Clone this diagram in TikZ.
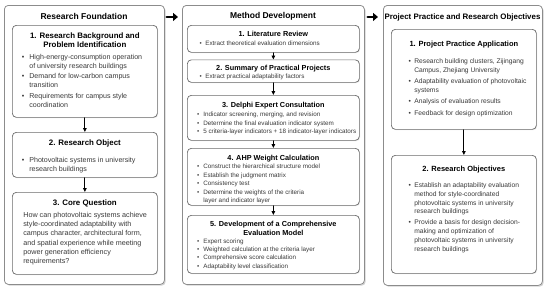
\documentclass[tikz,border=0pt]{standalone}
\usepackage{fontspec}
\setmainfont{Liberation Sans}
\usepackage{enumitem}
\usetikzlibrary{arrows.meta, shadows, calc}

\definecolor{bodygray}{HTML}{3A3A3A}
\definecolor{edgegray}{HTML}{6A6A6A}
\definecolor{paneledge}{HTML}{8C8C8C}

\setlist[itemize]{label=\textbullet, topsep=0pt, partopsep=0pt, parsep=0pt, itemsep=0pt}

% box text: height, width, top pad, content
\newcommand{\boxbody}[4]{\begin{minipage}[t][#1][t]{#2}\raggedright\vspace*{#3}#4\end{minipage}}

% fonts for the three columns
\newcommand{\lsub}{\fontsize{7.9}{9.3}\selectfont\bfseries}
\newcommand{\lbody}{\fontsize{7.1}{9}\selectfont\color{bodygray}}
\newcommand{\msub}{\fontsize{7.3}{9.5}\selectfont\bfseries}
\newcommand{\mbody}{\fontsize{6.3}{8.5}\selectfont\color{bodygray}}
\newcommand{\rsub}{\fontsize{7.5}{9}\selectfont\bfseries}
\newcommand{\rbody}{\fontsize{6.7}{8.9}\selectfont\color{bodygray}}

\begin{document}
\begin{tikzpicture}[x=1pt, y=-1pt, line cap=round, line join=round]
  \tikzset{
    panel/.style={draw=paneledge, line width=0.75pt, rounded corners=4pt, fill=white, anchor=north west, inner sep=0pt,
      drop shadow={shadow xshift=1.3pt, shadow yshift=-1.3pt, fill=black!35, opacity=0.5}},
    stagebox/.style={draw=edgegray, line width=0.7pt, rounded corners=4pt, fill=white, anchor=north west, inner ysep=0pt,
      drop shadow={shadow xshift=0.8pt, shadow yshift=-0.8pt, fill=black!25, opacity=0.35}},
    ptitle/.style={font=\fontsize{8.5}{10}\selectfont\bfseries, anchor=base, inner sep=0pt},
    flow/.style={line width=0.8pt, -{Triangle[length=4pt, width=3.6pt]}},
    bigflow/.style={line width=2.8pt, -{Triangle[length=5pt, width=8pt]}}
  }
  \useasboundingbox (0,0) rectangle (550,290);

  % three columns
  \node[panel, minimum width=160pt, minimum height=279pt] (fnd) at (4,5) {};
  \node[panel, minimum width=182pt, minimum height=279pt] (mth) at (182,5) {};
  \node[panel, minimum width=159pt, minimum height=280pt] (prc) at (383,5) {};

  \node[ptitle] (fndt) at (84,19) {Research Foundation};
  \node[ptitle] (mtht) at (273,18.5) {Method Development};
  \node[ptitle, font=\fontsize{7.9}{9}\selectfont\bfseries] (prct) at (462.5,19) {Project Practice and Research Objectives};

  % left column
  \node[stagebox, inner xsep=3pt] (bkg) at (12,25) {\boxbody{92pt}{139pt}{7.3pt}{%
    {\centering\lsub 1. Research Background and\\ Problem Identification\par}
    \vspace{2.5pt}
    {\lbody\begin{itemize}[leftmargin=14pt, labelsep=5pt, itemsep=1.5pt]
      \item High-energy-consumption operation\newline of university research buildings
      \item Demand for low-carbon campus\newline transition
      \item Requirements for campus style\newline coordination
    \end{itemize}}}};

  \node[stagebox, inner xsep=3pt] (obj) at (12,132) {\boxbody{45pt}{139pt}{7pt}{%
    {\centering\lsub 2. Research Object\par}
    \vspace{8pt}
    {\lbody\begin{itemize}[leftmargin=14pt, labelsep=5pt]
      \item Photovoltaic systems in university\newline research buildings
    \end{itemize}}}};

  \node[stagebox, inner xsep=3pt] (cq) at (12,192) {\boxbody{82pt}{139pt}{7.3pt}{%
    {\centering\lsub 3. Core Question\par}
    \vspace{2.7pt}
    {\fontsize{7.2}{9.3}\selectfont\color{bodygray}\leftskip=8pt
      How can photovoltaic systems achieve\\ style-coordinated adaptability with\\
      campus character, architectural form,\\ and spatial experience while meeting\\
      power generation efficiency\\ requirements?\par}}};

  % middle column
  \node[stagebox, inner xsep=2pt] (lit) at (187,25) {\boxbody{27pt}{168pt}{5.7pt}{%
    {\centering\msub 1. Literature Review\par}
    \vspace{0.5pt}
    {\mbody\begin{itemize}[leftmargin=16pt, labelsep=3.5pt]
      \item Extract theoretical evaluation dimensions
    \end{itemize}}}};

  \node[stagebox, inner xsep=2pt] (sum) at (187,59.5) {\boxbody{22.5pt}{168pt}{5.2pt}{%
    {\centering\msub 2. Summary of Practical Projects\par}
    {\mbody\begin{itemize}[leftmargin=16pt, labelsep=3.5pt]
      \item Extract practical adaptability factors
    \end{itemize}}}};

  \node[stagebox, inner xsep=2pt] (dlp) at (187,95) {\boxbody{45pt}{168pt}{6.7pt}{%
    {\centering\msub 3. Delphi Expert Consultation\par}
    \vspace{0.5pt}
    {\mbody\begin{itemize}[leftmargin=14pt, labelsep=4pt, itemsep=0.3pt]
      \item Indicator screening, merging, and revision
      \item Determine the final evaluation indicator system
      \item 5 criteria-layer indicators + 18 indicator-layer indicators
    \end{itemize}}}};

  \node[stagebox, inner xsep=2pt] (ahp) at (187,148) {\boxbody{57pt}{168pt}{6.7pt}{%
    {\centering\msub 4. AHP Weight Calculation\par}
    {\mbody\begin{itemize}[leftmargin=14pt, labelsep=4pt]
      \item Construct the hierarchical structure model
      \item Establish the judgment matrix
      \item Consistency test
      \item Determine the weights of the criteria\newline layer and indicator layer
    \end{itemize}}}};

  \node[stagebox, inner xsep=2pt] (mdl) at (187,215) {\boxbody{58pt}{168pt}{5.7pt}{%
    {\centering\msub 5. Development of a Comprehensive\\ Evaluation Model\par}
    {\fontsize{6.3}{7.6}\selectfont\color{bodygray}\begin{itemize}[leftmargin=14pt, labelsep=4pt, itemsep=0.6pt]
      \item Expert scoring
      \item Weighted calculation at the criteria layer
      \item Comprehensive score calculation
      \item Adaptability level classification
    \end{itemize}}}};

  % right column
  \node[stagebox, inner xsep=3pt] (app) at (391,29) {\boxbody{100pt}{139pt}{11.6pt}{%
    {\centering\rsub 1. Project Practice Application\par}
    \vspace{8pt}
    {\rbody\begin{itemize}[leftmargin=20pt, labelsep=3.5pt, itemsep=2.5pt]
      \item Research building clusters, Zijingang\newline Campus, Zhejiang University
      \item Adaptability evaluation of photovoltaic\newline systems
      \item Analysis of evaluation results
      \item Feedback for design optimization
    \end{itemize}}}};

  \node[stagebox, inner xsep=3pt] (goal) at (391,155) {\boxbody{118pt}{139pt}{10.6pt}{%
    {\centering\rsub 2. Research Objectives\par}
    \vspace{7pt}
    {\rbody\begin{itemize}[leftmargin=20pt, labelsep=3.5pt, itemsep=2pt]
      \item Establish an adaptability evaluation\newline method for style-coordinated\newline
        photovoltaic systems in university\newline research buildings
      \item Provide a basis for design decision-\newline making and optimization of\newline
        photovoltaic systems in university\newline research buildings
    \end{itemize}}}};

  % connectors
  \draw[flow] (bkg.south) -- (obj.north);
  \draw[flow] (obj.south) -- (cq.north);
  \draw[flow] (lit.south) -- (sum.north);
  \draw[flow] (sum.south) -- (dlp.north);
  \draw[flow] (dlp.south) -- (ahp.north);
  \draw[flow] (ahp.south) -- (mdl.north);
  \draw[flow] (app.south) -- (goal.north);

  \draw[bigflow] ($(fnd.east |- fndt)+(2,1)$) -- ($(mth.west |- fndt)+(-4,1)$);
  \draw[bigflow] ($(mth.east |- fndt)+(3,1)$) -- ($(prc.west |- fndt)+(-5,1)$);
\end{tikzpicture}
\end{document}
